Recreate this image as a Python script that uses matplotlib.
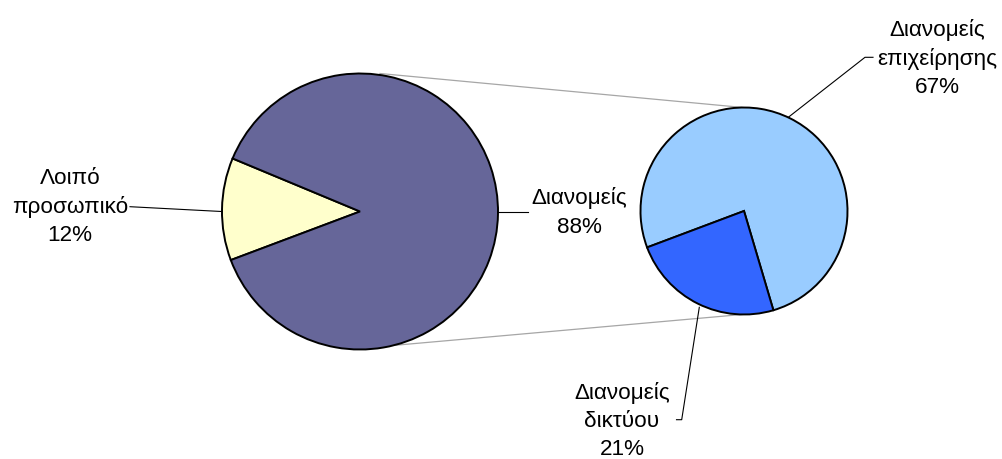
import matplotlib
matplotlib.use("Agg")
from matplotlib import pyplot as plt

# first pie: staff split
main_values = [12, 88]
main_labels = ["Λοιπό\nπροσωπικό\n12%", "Διανομείς\n88%"]
main_colors = ["#FFFFCC", "#666699"]

# second pie: breakdown of the couriers
sub_values = [67, 21]
sub_labels = ["Διανομείς\nεπιχείρησης\n67%", "Διανομείς\nδικτύου\n21%"]
sub_colors = ["#99CCFF", "#3366FF"]

W, H = 1002, 460


def Y(y):
    # pixel rows counted from the top
    return H - y


plt.rcParams["font.family"] = ["Liberation Sans", "DejaVu Sans"]
fig = plt.figure(figsize=(W / 100, H / 100), dpi=100)
ax = fig.add_axes([0, 0, 1, 1])

big_c, big_r = (360, Y(212.5)), 138
small_c, small_r = (744, Y(212)), 103.5

wedge_style = dict(edgecolor="black", linewidth=1.4)
ax.pie(main_values, colors=main_colors, startangle=157.4, counterclock=True,
       center=big_c, radius=big_r, wedgeprops=wedge_style, frame=True)
ax.pie(sub_values, colors=sub_colors, startangle=-73.5, counterclock=True,
       center=small_c, radius=small_r, wedgeprops=wedge_style, frame=True)
ax.set_xlim(0, W)
ax.set_ylim(0, H)
ax.set_aspect("equal")
ax.axis("off")

# series lines between the pies
ax.plot([380, 743], [Y(74.5), Y(108.5)], color="#A6A6A6", lw=0.9, zorder=0)
ax.plot([387, 742], [Y(347), Y(315.5)], color="#A6A6A6", lw=0.9, zorder=0)

# leader lines
lc = dict(color="black", lw=0.8)
ax.plot([130, 221.5], [Y(207.7), Y(212.5)], **lc)
ax.plot([498, 528], [Y(212.7), Y(212.7)], **lc)
ax.plot([788.3, 865, 873], [Y(118.3), Y(58.3), Y(58.3)], **lc)
ax.plot([699.3, 681.7, 676.5], [Y(308.3), Y(420.7), Y(420.7)], **lc)

fs = 16.2
ls = 1.45
ax.text(70, Y(207), main_labels[0], ha="center", va="center",
        fontsize=fs, linespacing=ls)
ax.text(579, Y(212.5), main_labels[1], ha="center", va="center",
        fontsize=fs, linespacing=ls)
ax.text(937.5, Y(58.5), sub_labels[0], ha="center", va="center",
        fontsize=fs, linespacing=ls)
ax.text(622, Y(421), sub_labels[1], ha="center", va="center",
        fontsize=fs, linespacing=ls)

fig.savefig("out.png", dpi=100)
